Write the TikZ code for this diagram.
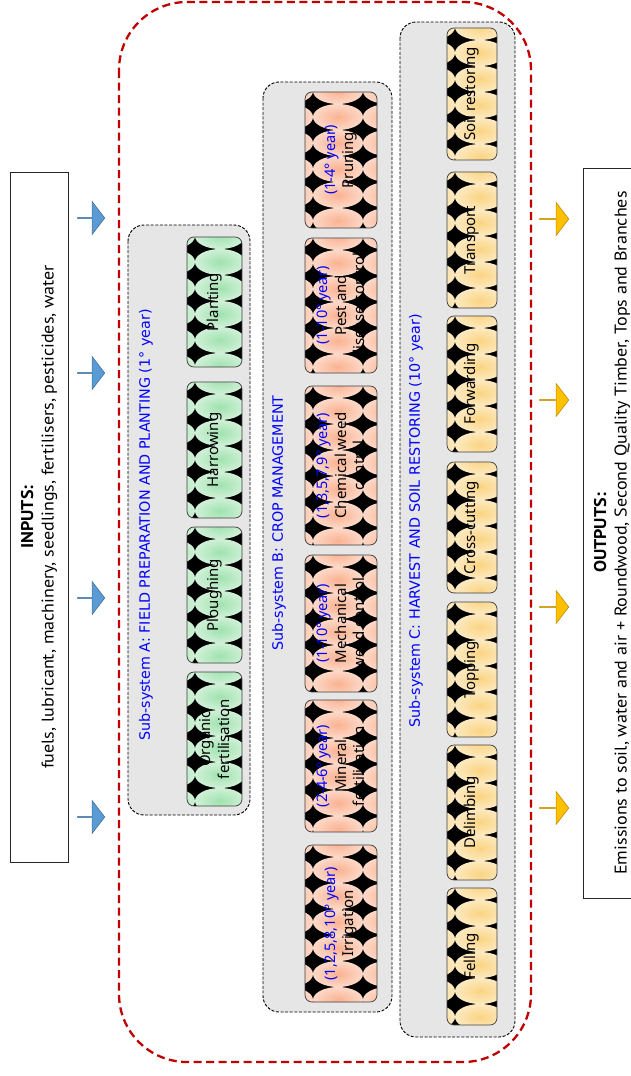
\documentclass[tikz,border=0pt]{standalone}
\usepackage{fontspec}
\setmainfont{Noto Sans}
\newfontfamily\ttlfont{DejaVu Sans}
\newfontfamily\yrfont{Noto Sans}
\newfontfamily\iofont[FakeStretch=1.06]{PT Sans}
\usetikzlibrary{shapes.arrows}
\definecolor{redC}{HTML}{C00000}
\definecolor{grayC}{HTML}{E6E6E6}
\definecolor{ttlC}{HTML}{0000FF}
\definecolor{blueC}{HTML}{5B9BD5}
\definecolor{blueD}{HTML}{41719C}
\definecolor{orC}{HTML}{FFC000}
\definecolor{orD}{HTML}{BC8C00}
\definecolor{gC}{RGB}{160,226,175}
\definecolor{pC}{RGB}{250,178,145}
\definecolor{yC}{RGB}{250,212,130}
\pgfdeclareradialshading{shG}{\pgfpoint{0bp}{0bp}}{color(0bp)=(gC); color(20bp)=(gC!60!white); color(46bp)=(gC!8!white); color(100bp)=(white)}
\pgfdeclareradialshading{shP}{\pgfpoint{0bp}{0bp}}{color(0bp)=(pC); color(20bp)=(pC!60!white); color(46bp)=(pC!8!white); color(100bp)=(white)}
\pgfdeclareradialshading{shY}{\pgfpoint{0bp}{0bp}}{color(0bp)=(yC); color(20bp)=(yC!60!white); color(46bp)=(yC!8!white); color(100bp)=(white)}
\tikzset{
  redbox/.style={draw=redC, line width=2.3pt, dash pattern=on 8pt off 4.5pt, rounded corners=68pt},
  subbox/.style={draw=black, fill=grayC, line width=0.9pt, dash pattern=on 3pt off 1.6pt, rounded corners=16pt},
  ttl/.style={rotate=90, text=ttlC, font=\ttlfont\fontsize{14.3}{17}\selectfont},
  lbl/.style={rotate=90, align=center, inner sep=0pt, font=\fontsize{15}{18.5}\selectfont},
  iobox/.style={draw=black!85, fill=white, line width=0.6pt, rotate=90, align=center, font=\iofont\fontsize{17}{20.5}\selectfont},
  inarrow/.style={single arrow, draw=blueD, fill=blueC, line width=0.6pt, minimum height=27pt, minimum width=33pt, single arrow head extend=7.5pt, single arrow tip angle=105, inner sep=0pt},
  outarrow/.style={single arrow, draw=orD, fill=orC, line width=0.6pt, minimum height=29pt, minimum width=33pt, single arrow head extend=7.5pt, single arrow tip angle=105, inner sep=0pt},
  tbord/.style={draw=black!75, line width=0.7pt, rounded corners=7pt},
}
\newcommand\yr[1]{{\yrfont\fontsize{14.5}{18.5}\selectfont\color{ttlC}#1}}
% name, x1, y1, x2, y2, shading, text
% texture: tiles 50 x 26, star corners at (x1+8+50i, y1+12+26j)
\newcommand\tbox[7]{%
  \begin{scope}
    \clip[rounded corners=7pt] (#2,#3) rectangle (#4,#5);
    \fill[black] (#2,#3) rectangle (#4,#5);
    \pgfmathtruncatemacro\nr{(#5-#3)/26+1}
    \foreach \cc in {0,1,2}{
      \foreach \rr in {0,...,\nr}{
        \shade[shading=#6] ({#2-17+\cc*50},{#3-1+\rr*26}) ellipse (25pt and 13pt);
      }}
  \end{scope}
  \draw[tbord] (#2,#3) rectangle (#4,#5);
  \node[lbl] (#1) at ({(#2+#4)/2},{(#3+#5)/2}) {#7};
}
\begin{document}
\begin{tikzpicture}[x=1pt,y=-1pt]
\useasboundingbox (0,0) rectangle (630,1076);
% outer system boundary
\draw[redbox] (119,2) rectangle (531,1062);
% inputs / outputs
\node[iobox, minimum width=690pt, minimum height=58pt] (inputs) at (39,517)
  {\textbf{INPUTS:}\\fuels, lubricant, machinery, seedlings, fertilisers, pesticides, water};
\node[iobox, minimum width=730pt, minimum height=58pt] (outputs) at (612,533)
  {\textbf{OUTPUTS:}\\Emissions to soil, water and air + Roundwood, Second Quality Timber, Tops and Branches};
% arrows
\node[inarrow] (ia1) at (91,218) {};
\node[inarrow] (ia2) at (91,373) {};
\node[inarrow] (ia3) at (91,598) {};
\node[inarrow] (ia4) at (91,817) {};
\node[outarrow] (oa1) at (554,219) {};
\node[outarrow] (oa2) at (554,400) {};
\node[outarrow] (oa3) at (554,607) {};
\node[outarrow] (oa4) at (554,808) {};
% sub-systems
\draw[subbox] (128,225) rectangle (250,815);
\draw[subbox] (263,82) rectangle (392,1012);
\draw[subbox] (400,22) rectangle (515,1037);
\node[ttl] (tA) at (146,525) {Sub-system A: FIELD PREPARATION AND PLANTING (1° year)};
\node[ttl] (tB) at (279,523) {Sub-system B: CROP MANAGEMENT};
\node[ttl] (tC) at (416,521) {Sub-system C: HARVEST AND SOIL RESTORING (10° year)};
% A
\tbox{orgf}{187}{672}{242}{806}{shG}{Organic\\fertilisation}
\tbox{plou}{187}{527}{242}{663}{shG}{Ploughing}
\tbox{harr}{187}{382}{242}{518}{shG}{Harrowing}
\tbox{plan}{187}{237}{242}{367}{shG}{Planting}
% B
\tbox{prun}{305}{92}{377}{228}{shP}{\yr{(1-4° year)}\\Pruning}
\tbox{pest}{305}{238}{377}{373}{shP}{\yr{(1-10° year)}\\Pest and\\disease control}
\tbox{chem}{305}{386}{377}{545}{shP}{\yr{(1,3,5,7,9° year)}\\Chemical weed\\control}
\tbox{mech}{305}{555}{377}{692}{shP}{\yr{(1-10° year)}\\Mechanical\\weed control}
\tbox{mine}{305}{700}{377}{832}{shP}{\yr{(2-4-6° year)}\\Mineral\\fertilisation}
\tbox{irri}{305}{845}{377}{1002}{shP}{\yr{(1,2,5,8,10° year)}\\Irrigation}
% C
\tbox{soil}{447}{28}{497}{160}{shY}{Soil restoring}
\tbox{tran}{447}{172}{497}{308}{shY}{Transport}
\tbox{forw}{447}{316}{497}{452}{shY}{Forwarding}
\tbox{cros}{447}{462}{497}{593}{shY}{Cross-cutting}
\tbox{topp}{447}{602}{497}{737}{shY}{Topping}
\tbox{deli}{447}{745}{497}{880}{shY}{Delimbing}
\tbox{fell}{447}{888}{497}{1025}{shY}{Felling}
\end{tikzpicture}
\end{document}
